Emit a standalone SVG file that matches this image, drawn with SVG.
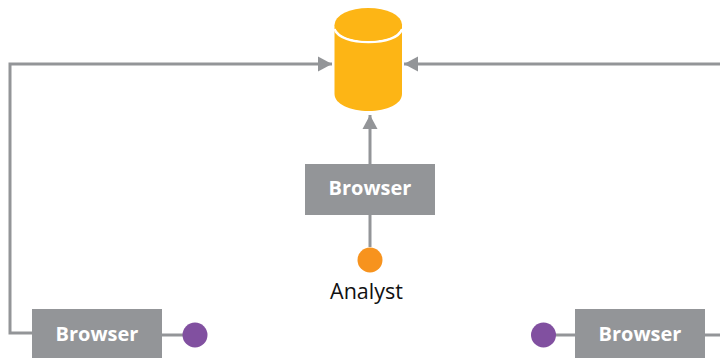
<svg xmlns="http://www.w3.org/2000/svg" width="720" height="358" viewBox="0 0 720 358">
<defs>
<marker id="arrow" markerUnits="userSpaceOnUse" markerWidth="14" markerHeight="16" refX="14" refY="8" orient="auto"><path d="M0 .5L14 8L0 15.500Z" fill="#939598"/></marker>
</defs>
<style>
.c{fill:none;stroke:#939598;stroke-width:3}
.b{fill:#939598}
.t{font-family:"Open Sans","Noto Sans",sans-serif;font-size:20px;font-weight:700;fill:#fff;text-anchor:middle}
.a{font-family:"Open Sans","Noto Sans",sans-serif;font-size:21.500px;fill:#111;text-anchor:middle}
</style>
<rect width="720" height="358" fill="#fff"/>
<g id="connectors">
<path class="c" d="M32 333H10V64H332" marker-end="url(#arrow)"/>
<path class="c" d="M720 64H404" marker-end="url(#arrow)"/>
<path class="c" d="M370 164V115" marker-end="url(#arrow)"/>
<path class="c" d="M370 215V247"/>
<path class="c" d="M162 335H184"/>
<path class="c" d="M555 335H575"/>
<path class="c" d="M705 335H720"/>
</g>
<g id="database">
<path d="M334.500 25V94C334.500 104 350 111 368.500 111S402 104 402 94V25Z" fill="#fdb515"/>
<path d="M334.500 29C338 38 352 42 368.500 42S399 38 402 29" fill="none" stroke="#fff" stroke-width="2.500"/>
<ellipse cx="368.300" cy="24.500" rx="33.700" ry="16.500" fill="#fdb515"/>
</g>
<g id="browser-center"><rect class="b" x="305" y="164" width="130" height="51"/><text class="t" x="370" y="195">Browser</text></g>
<g id="analyst"><circle cx="370" cy="260" r="12.500" fill="#f7931e"/><text class="a" x="366.500" y="299">Analyst</text></g>
<g id="browser-left"><rect class="b" x="32" y="309" width="130" height="49"/><text class="t" x="97" y="341">Browser</text></g>
<g id="user-left"><circle cx="195" cy="335" r="12.500" fill="#8150a0"/></g>
<g id="browser-right"><rect class="b" x="575" y="309" width="130" height="49"/><text class="t" x="640" y="341">Browser</text></g>
<g id="user-right"><circle cx="543.500" cy="335" r="12.500" fill="#8150a0"/></g>
</svg>
